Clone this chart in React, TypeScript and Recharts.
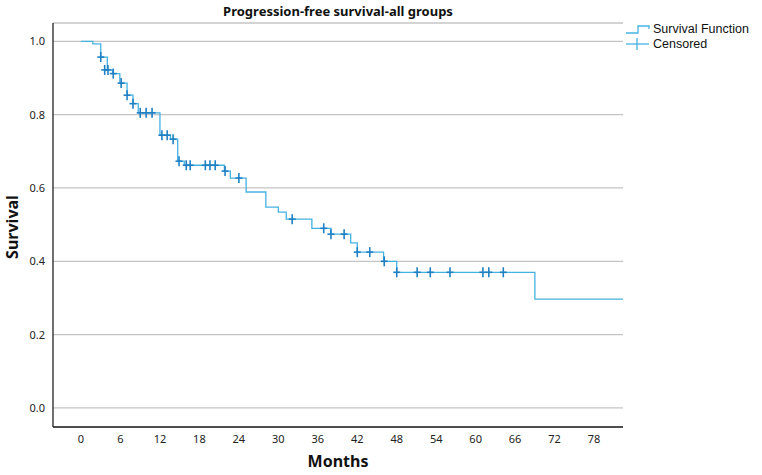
import { ComposedChart, Line, Scatter, XAxis, YAxis, CartesianGrid } from 'recharts';

// Kaplan-Meier step points (months, survival)
const stepMonths = [0, 1.8, 3.0, 4.0, 4.8, 5.9, 7.0, 7.9, 8.7, 12.0, 13.6, 14.7, 15.7, 21.8, 22.7, 25.1, 28.1, 30.0, 31.2, 35.1, 38.0, 41.0, 42.0, 46.0, 48.0, 69.0, 82.4];
const stepSurvival = [1.0, 0.993, 0.957, 0.922, 0.912, 0.886, 0.853, 0.83, 0.805, 0.744, 0.733, 0.673, 0.662, 0.646, 0.627, 0.589, 0.548, 0.534, 0.515, 0.49, 0.474, 0.45, 0.425, 0.4, 0.37, 0.297, 0.297];

// censored observations
const censorMonths = [3.0, 3.6, 4.1, 4.9, 6.1, 7.0, 7.9, 9.0, 9.9, 10.8, 12.3, 13.1, 14.0, 14.9, 16.0, 16.6, 18.9, 19.6, 20.4, 21.9, 24.0, 32.1, 36.9, 38.0, 40.0, 42.0, 43.9, 46.1, 48.0, 51.1, 53.1, 56.1, 61.1, 62.0, 64.2];
const censorSurvival = [0.957, 0.922, 0.922, 0.912, 0.886, 0.853, 0.83, 0.805, 0.805, 0.805, 0.744, 0.744, 0.733, 0.673, 0.662, 0.662, 0.662, 0.662, 0.662, 0.646, 0.627, 0.515, 0.49, 0.474, 0.474, 0.425, 0.425, 0.4, 0.37, 0.37, 0.37, 0.37, 0.37, 0.37, 0.37];

const xTicks = [0, 6, 12, 18, 24, 30, 36, 42, 48, 54, 60, 66, 72, 78];
const yTicks = [0, 0.2, 0.4, 0.6, 0.8, 1.0];

const lineColor = '#45b2e2';
const censorColor = '#1f80c4';
const font = '"Noto Sans", "DejaVu Sans", sans-serif';

const curve = stepMonths.map((m, i) => ({ m, s: stepSurvival[i] }));
const censored = censorMonths.map((m, i) => ({ m, s: censorSurvival[i] }));

const Plus = (p: any) => (
  <g stroke={censorColor} strokeWidth={1.6}>
    <line x1={p.cx} y1={p.cy - 5} x2={p.cx} y2={p.cy + 5} />
    <line x1={p.cx - 3.5} y1={p.cy} x2={p.cx + 3.5} y2={p.cy} />
  </g>
);

export default function App() {
  const tick = { fontSize: 11, fill: '#222', fontFamily: font };
  return (
    <div style={{ position: 'absolute', left: 0, top: 0, width: 762, height: 475, background: '#fff', fontFamily: font }}>
      <ComposedChart width={762} height={475} margin={{ top: 23, right: 139, left: 0, bottom: 0 }}>
        <CartesianGrid vertical={false} stroke="#c4c4c4" strokeWidth={1.3} />
        <XAxis
          dataKey="m" type="number" domain={[-4.26, 82.4]} ticks={xTicks} allowDataOverflow
          tickLine={false} axisLine={{ stroke: '#222', strokeWidth: 1.3 }} tick={tick} height={48} interval={0}
        />
        <YAxis
          dataKey="s" type="number" domain={[-0.052, 1.05]} ticks={yTicks} allowDataOverflow
          tickLine={false} axisLine={{ stroke: '#222', strokeWidth: 1.3 }} tick={tick} width={53}
          tickFormatter={(v: number) => v.toFixed(1)}
        />
        <Line data={curve} dataKey="s" type="stepAfter" stroke={lineColor} strokeWidth={1.3} dot={false} isAnimationActive={false} />
        <Scatter data={censored} dataKey="s" shape={Plus} isAnimationActive={false} />
      </ComposedChart>

      <div style={{ position: 'absolute', left: 53, width: 570, top: 2, textAlign: 'center', fontSize: 13, fontWeight: 700, color: '#111' }}>
        Progression-free survival-all groups
      </div>
      <div style={{ position: 'absolute', left: 53, width: 570, top: 450, textAlign: 'center', fontSize: 16, fontWeight: 700, color: '#111' }}>
        Months
      </div>
      <div style={{ position: 'absolute', left: 12, top: 227, transform: 'translate(-50%, -50%) rotate(-90deg)', fontSize: 16, fontWeight: 700, color: '#111' }}>
        Survival
      </div>

      <div style={{ position: 'absolute', left: 625, top: 22, fontSize: 12.5, fontFamily: '"Liberation Sans", Arial, sans-serif', color: '#111', lineHeight: '15px' }}>
        <div style={{ display: 'flex', alignItems: 'center', height: 15 }}>
          <svg width={26} height={15}>
            <polyline points="1,11 13,11 13,4 24,4 24,7" fill="none" stroke={lineColor} strokeWidth={1.3} />
          </svg>
          <span style={{ marginLeft: 2 }}>Survival Function</span>
        </div>
        <div style={{ display: 'flex', alignItems: 'center', height: 15 }}>
          <svg width={26} height={15}>
            <line x1={1} y1={7} x2={24} y2={7} stroke={lineColor} strokeWidth={1.3} />
            <line x1={12} y1={1} x2={12} y2={13} stroke={lineColor} strokeWidth={1.3} />
          </svg>
          <span style={{ marginLeft: 2 }}>Censored</span>
        </div>
      </div>
    </div>
  );
}
